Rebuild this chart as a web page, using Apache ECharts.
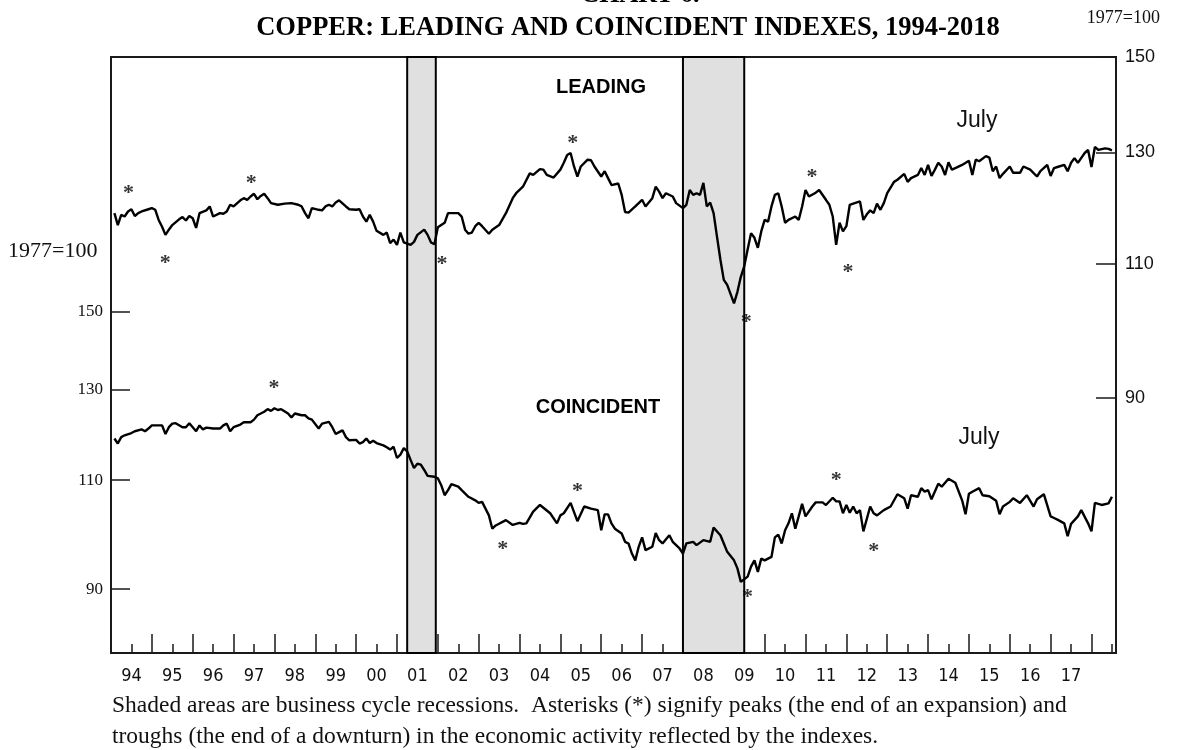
<!DOCTYPE html>
<html><head><meta charset="utf-8">
<script src="https://cdn.jsdelivr.net/npm/echarts@6/dist/echarts.min.js"></script>
<style>html,body{margin:0;padding:0;background:#fff;}#c{width:1187px;height:750px;}</style>
</head><body><div id="c"></div>
<script>
// ---- DATA (months counted from Jan 1994 = 0; values are indexes, 1977=100) ----
const yearLabels = ['94','95','96','97','98','99','00','01','02','03','04','05','06','07','08','09','10','11','12','13','14','15','16','17'];

const leadingMonth = [1,2,3,4,5,6,7,8,9,11,12,13,14,15,16,17,18,20,21,22,23,24,25,26,28,29,30,32,33,34,35,36,38,39,40,41,42,43,44,45,46,47,49,51,53,55,56,57,58,59,61,62,63,64,65,66,67,69,70,72,73,74,75,76,77,78,80,81,82,83,84,85,86,88,89,90,92,93,94,95,96,98,99,102,103,104,105,106,107,108,109,111,112,114,116,118,119,121,123,124,126,127,128,130,132,133,134,135,136,137,138,140,141,142,144,145,146,147,149,150,151,152,154,155,156,157,159,160,161,162,163,165,166,168,169,170,171,172,173,174,175,176,177,178,179,180,181,183,184,185,186,187,188,189,190,191,192,193,194,195,196,197,198,199,201,202,203,204,205,207,208,210,211,212,213,214,215,216,217,218,220,221,222,223,224,225,226,227,228,230,231,233,234,235,237,238,239,240,241,242,243,244,245,246,247,248,250,252,253,254,255,257,258,259,260,261,262,264,265,267,268,270,272,273,275,276,277,278,280,281,282,283,284,286,287,288,289,290,292,293,294];
const leadingValue = [118.7,116.6,118.4,118.1,119.0,119.4,118.2,118.7,119.0,119.4,119.6,119.3,117.5,116.3,114.9,115.8,116.6,117.6,118.0,117.4,118.2,117.8,116.1,118.7,119.2,119.9,118.1,118.7,118.6,119.0,120.2,119.9,121.0,121.4,121.1,121.7,122.2,121.2,121.8,122.2,121.4,120.5,120.2,120.4,120.5,120.2,119.9,118.7,117.8,119.6,119.3,119.2,119.9,120.2,119.9,120.6,121.0,119.9,119.4,119.3,119.4,118.1,117.2,118.4,117.2,115.6,114.9,115.3,113.5,114.1,113.2,115.3,113.6,113.2,113.7,114.9,115.8,114.9,113.6,113.3,116.2,117.0,118.7,118.7,118.1,115.8,115.1,115.3,116.4,117.0,116.4,115.1,115.8,116.6,118.7,121.4,122.3,123.5,126.0,125.7,126.8,126.7,125.7,125.2,126.7,128.0,129.5,129.9,127.3,125.4,127.3,128.6,128.5,127.3,125.4,126.4,125.1,123.8,124.1,122.0,118.9,118.8,119.9,120.5,121.1,119.9,121.4,123.5,122.6,121.4,122.3,121.7,120.5,119.6,120.2,122.9,122.0,122.3,122.0,124.2,119.9,120.6,118.7,114.6,110.7,107.4,106.6,103.7,105.5,107.9,109.6,112.4,115.2,114.4,112.7,115.5,117.5,117.2,119.9,122.0,122.3,119.9,117.0,117.5,118.1,117.5,119.9,122.9,121.7,122.4,122.9,121.1,120.2,118.1,113.2,117.0,115.5,116.4,120.2,120.4,120.8,117.5,118.5,119.2,118.7,120.4,119.3,120.5,122.3,124.4,124.8,125.9,124.4,125.1,125.7,127.0,125.7,127.6,125.5,126.7,128.0,127.3,125.7,128.1,126.7,127.0,127.6,128.4,125.7,128.6,128.3,129.3,129.0,126.4,127.3,125.1,125.9,127.3,126.1,126.1,127.3,126.7,125.4,126.4,127.6,125.5,127.0,127.2,127.6,126.4,128.0,128.9,128.0,129.9,130.5,127.2,131.1,130.5,130.8,130.7,130.4];

const coincidentMonth = [1,2,3,4,6,7,9,10,11,12,13,15,16,17,18,19,21,22,23,24,25,26,27,28,30,32,33,34,35,36,38,39,41,42,43,45,46,47,48,49,50,52,53,54,56,57,58,59,61,62,64,65,66,67,68,69,70,72,73,74,75,76,77,78,80,81,82,83,84,85,86,87,88,89,90,91,92,93,95,96,97,98,99,100,102,103,105,107,108,109,111,112,113,116,118,120,121,122,124,126,129,131,132,133,135,137,139,141,143,144,145,146,147,148,150,151,152,153,154,155,156,157,159,160,161,162,164,165,167,168,169,171,172,174,176,177,179,180,181,183,184,185,187,188,189,190,191,192,194,195,196,197,198,199,200,201,202,203,204,206,207,209,210,212,213,214,215,216,217,218,219,220,221,223,224,225,227,229,231,233,234,235,237,238,239,240,241,243,244,246,248,250,251,252,253,255,256,258,260,261,262,264,265,267,269,271,272,274,276,277,278,280,281,282,284,285,287,288,289,291,293,294];
const coincidentValue = [118.8,117.7,119.1,119.5,120.0,120.4,120.8,120.4,121.0,121.7,121.7,121.7,119.8,121.3,122.1,122.2,121.3,121.3,122.2,121.3,120.4,121.7,120.8,121.2,121.0,121.0,121.7,122.1,120.4,121.3,121.9,122.4,122.4,123.0,124.0,124.8,125.4,125.0,125.6,125.2,125.4,124.4,123.5,124.4,124.0,124.0,123.3,123.0,121.0,122.1,122.5,121.3,119.8,120.2,120.6,119.1,118.4,118.5,117.7,118.0,118.8,117.8,118.3,117.8,117.3,116.9,116.4,117.0,114.6,115.3,116.7,116.0,114.2,112.5,113.4,113.2,112.1,110.9,110.7,110.4,109.0,107.0,108.0,109.2,108.7,108.0,106.7,106.0,105.5,105.7,103.1,100.6,101.2,102.2,101.3,101.7,101.5,101.6,103.8,105.1,103.5,101.6,103.1,103.5,105.5,102.0,104.8,104.4,104.1,100.3,103.3,103.3,101.6,100.6,99.7,98.2,97.9,96.1,94.9,97.3,99.0,96.7,97.3,99.8,98.5,97.9,99.4,98.2,97.0,96.1,97.9,98.2,97.6,98.5,98.2,100.8,99.4,97.9,96.4,94.9,93.5,91.2,92.1,93.8,94.9,92.9,95.2,94.9,95.5,99.0,99.5,97.9,100.3,101.6,103.5,100.6,102.9,105.3,102.9,104.8,105.6,105.6,105.1,106.5,105.8,105.8,103.5,105.1,103.6,104.8,103.5,104.1,100.1,104.8,103.5,103.1,104.1,104.8,107.2,106.4,104.4,107.0,106.7,108.4,107.7,108.0,106.2,109.3,108.7,110.3,109.5,106.0,103.3,107.3,107.7,108.4,107.0,106.8,105.9,103.3,104.8,105.7,106.4,105.5,107.0,104.8,106.2,107.2,102.9,102.6,102.3,101.6,99.2,101.5,102.9,104.1,101.6,100.1,105.5,105.1,105.4,106.7];

// recessions as [start, end] in decimal years
const recessions = [[2001.25, 2001.95], [2008.0, 2009.5]];

// peaks and troughs (asterisks), decimal year and index level
const leadingTurnDate  = [1994.43, 1995.33, 1997.43, 2002.10, 2005.30, 2009.55, 2011.16, 2012.04];
const leadingTurnValue = [123.2, 110.9, 125.1, 110.7, 132.8, 101.6, 126.2, 109.4];
const coincidentTurnDate  = [1997.99, 2003.59, 2005.42, 2009.58, 2011.75, 2012.67];
const coincidentTurnValue = [131.5, 97.8, 108.7, 89.4, 111.0, 97.3];

const leftTicks = [90, 110, 130, 150];
const rightTicks = [90, 110, 130, 150];
const leftRange = [80, 240];
const rightRange = [61.4, 150];

// ---- CHART ----
const lg = Math.log10;
const toYear = m => 1994 + m / 12;
const serif = "'Liberation Serif','Times New Roman',serif";
const sans = "'Liberation Sans',Arial,sans-serif";
const narrow = "'Liberation Sans Narrow','Arial Narrow','DejaVu Sans Condensed','Liberation Sans',sans-serif";
const ink = '#1a1a1a';

const yearStarts = yearLabels.map((_, i) => 1995 + i);           // 1995..2018
const midYears = yearLabels.map((_, i) => 1994.5 + i).concat([2018.5]);
const labelPos = yearLabels.map((_, i) => 1994.5 + i);

const chart = echarts.init(document.getElementById('c'), null, {renderer: 'canvas'});
const xBase = {type: 'value', min: 1994, max: 2018.6, gridIndex: 0, position: 'bottom', splitLine: {show: false}};
const starLabel = {show: true, formatter: '*', position: 'inside', fontFamily: serif, fontWeight: 'bold', fontSize: 22, color: '#000', offset: [0, 5]};

chart.setOption({
  animation: false,
  backgroundColor: '#fff',
  grid: {left: 111, right: 71, top: 57, bottom: 97, show: true, borderColor: ink, borderWidth: 2, backgroundColor: 'transparent'},
  xAxis: [
    Object.assign({}, xBase, {
      axisLine: {show: true, lineStyle: {color: ink, width: 2}},
      axisTick: {show: true, customValues: yearStarts, inside: true, length: 19, lineStyle: {color: ink, width: 1.5}},
      axisLabel: {show: false}
    }),
    Object.assign({}, xBase, {
      axisLine: {show: false},
      axisTick: {show: true, customValues: midYears, inside: true, length: 9, lineStyle: {color: ink, width: 1.5}},
      axisLabel: {show: true, customValues: labelPos, formatter: v => yearLabels[Math.round(v - 1994.5)],
        margin: 14, fontFamily: narrow, fontSize: 18, color: '#111'}
    })
  ],
  yAxis: [
    {type: 'value', position: 'left', min: lg(leftRange[0]), max: lg(leftRange[1]), splitLine: {show: false},
      axisLine: {show: true, lineStyle: {color: ink, width: 2}},
      axisTick: {show: true, customValues: leftTicks.map(lg), inside: true, length: 19, lineStyle: {color: ink, width: 1.5}},
      axisLabel: {show: true, customValues: leftTicks.map(lg), formatter: v => String(Math.round(Math.pow(10, v))),
        margin: 8, fontFamily: serif, fontSize: 17, color: '#111'}},
    {type: 'value', position: 'right', min: lg(rightRange[0]), max: lg(rightRange[1]), splitLine: {show: false},
      axisLine: {show: true, lineStyle: {color: ink, width: 2}},
      axisTick: {show: true, customValues: rightTicks.map(lg), inside: true, length: 20, lineStyle: {color: ink, width: 1.5}},
      axisLabel: {show: true, customValues: rightTicks.map(lg), formatter: v => String(Math.round(Math.pow(10, v))),
        margin: 9, fontFamily: sans, fontSize: 18, color: '#111'}}
  ],
  series: [
    {type: 'line', name: 'recessions', xAxisIndex: 0, yAxisIndex: 0, data: [], z: 1, silent: true,
      markArea: {silent: true, itemStyle: {color: '#e0e0e0', borderColor: '#000', borderWidth: 2},
        data: recessions.map(r => [{xAxis: r[0]}, {xAxis: r[1]}])}},
    {type: 'line', name: 'Leading', xAxisIndex: 0, yAxisIndex: 1, z: 3, silent: true, symbol: 'none',
      lineStyle: {color: '#000', width: 2.4},
      data: leadingMonth.map((m, i) => [toYear(m), lg(leadingValue[i])])},
    {type: 'line', name: 'Coincident', xAxisIndex: 0, yAxisIndex: 0, z: 3, silent: true, symbol: 'none',
      lineStyle: {color: '#000', width: 2.4},
      data: coincidentMonth.map((m, i) => [toYear(m), lg(coincidentValue[i])])},
    {type: 'scatter', name: 'Leading turns', xAxisIndex: 0, yAxisIndex: 1, z: 4, silent: true,
      symbol: 'circle', symbolSize: 1, itemStyle: {color: 'rgba(0,0,0,0)'}, label: starLabel,
      data: leadingTurnDate.map((t, i) => [t, lg(leadingTurnValue[i])])},
    {type: 'scatter', name: 'Coincident turns', xAxisIndex: 0, yAxisIndex: 0, z: 4, silent: true,
      symbol: 'circle', symbolSize: 1, itemStyle: {color: 'rgba(0,0,0,0)'}, label: starLabel,
      data: coincidentTurnDate.map((t, i) => [t, lg(coincidentTurnValue[i])])}
  ],
  graphic: [
    {type: 'text', style: {text: 'CHART 6.', x: 640, y: -5, textAlign: 'center', textVerticalAlign: 'middle', font: "bold 26px 'Liberation Serif', serif", fill: '#000'}},
    {type: 'text', style: {text: 'COPPER: LEADING AND COINCIDENT INDEXES, 1994-2018', x: 628, y: 28, textAlign: 'center', textVerticalAlign: 'middle', font: "bold 26.5px 'Liberation Serif', serif", fill: '#000'}},
    {type: 'text', style: {text: '1977=100', x: 1160, y: 18, textAlign: 'right', textVerticalAlign: 'middle', font: "18px 'Liberation Serif', serif", fill: '#111'}},
    {type: 'text', style: {text: '1977=100', x: 8, y: 251, textAlign: 'left', textVerticalAlign: 'middle', font: "22px 'Liberation Serif', serif", fill: '#111'}},
    {type: 'text', style: {text: 'LEADING', x: 601, y: 87, textAlign: 'center', textVerticalAlign: 'middle', font: "bold 20px 'Liberation Sans', Arial, sans-serif", fill: '#000'}},
    {type: 'text', style: {text: 'COINCIDENT', x: 598, y: 407, textAlign: 'center', textVerticalAlign: 'middle', font: "bold 20px 'Liberation Sans', Arial, sans-serif", fill: '#000'}},
    {type: 'text', style: {text: 'July', x: 977, y: 121, textAlign: 'center', textVerticalAlign: 'middle', font: "23px 'Liberation Sans', Arial, sans-serif", fill: '#111'}},
    {type: 'text', style: {text: 'July', x: 979, y: 438, textAlign: 'center', textVerticalAlign: 'middle', font: "23px 'Liberation Sans', Arial, sans-serif", fill: '#111'}},
    {type: 'text', style: {text: 'Shaded areas are business cycle recessions.  Asterisks (*) signify peaks (the end of an expansion) and', x: 112, y: 706, textAlign: 'left', textVerticalAlign: 'middle', font: "23.5px 'Liberation Serif', serif", fill: '#111'}},
    {type: 'text', style: {text: 'troughs (the end of a downturn) in the economic activity reflected by the indexes.', x: 112, y: 737, textAlign: 'left', textVerticalAlign: 'middle', font: "23.5px 'Liberation Serif', serif", fill: '#111'}}
  ]
});
</script>
</body></html>
